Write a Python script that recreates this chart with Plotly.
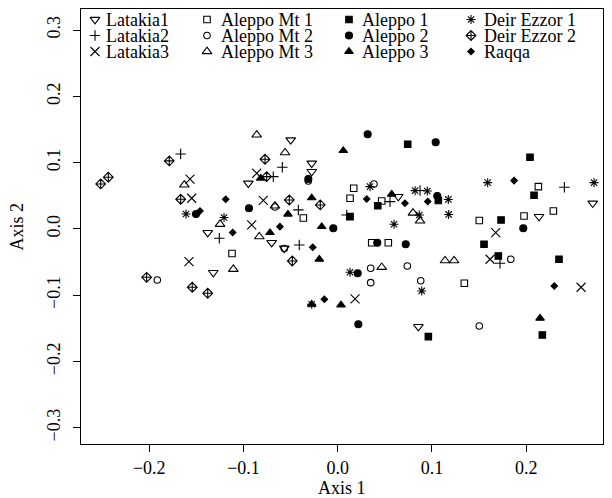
import plotly.graph_objects as go

# ---- data (Axis 1, Axis 2) ----
groups = ["Latakia1", "Latakia2", "Latakia3",
          "Aleppo Mt 1", "Aleppo Mt 2", "Aleppo Mt 3",
          "Aleppo 1", "Aleppo 2", "Aleppo 3",
          "Deir Ezzor 1", "Deir Ezzor 2", "Raqqa"]

latakia1_x = [-0.0949, -0.0499, -0.0276, -0.0276, 0.0643, -0.1380, -0.1321, -0.0701, -0.0567, 0.0856, 0.2137, 0.2707]
latakia1_y = [0.0689, 0.1342, 0.0991, 0.0864, 0.0487, -0.0056, -0.0659, -0.0207, -0.0291, -0.1474, 0.0186, 0.0388]

latakia2_x = [-0.1667, -0.0588, -0.0684, -0.0418, 0.0096, 0.0555, -0.1257, -0.0408, 0.0874, 0.1723, 0.2406]
latakia2_y = [0.1131, 0.0931, 0.0789, 0.0287, 0.0211, 0.0412, -0.0140, -0.0241, 0.0581, -0.0517, 0.0629]

latakia3_x = [-0.1568, -0.0860, -0.1550, -0.0790, -0.0913, -0.1579, 0.0184, 0.1677, 0.1617, 0.2583]
latakia3_y = [0.0750, 0.0840, 0.0463, 0.0430, 0.0060, -0.0493, -0.1056, -0.0056, -0.0457, -0.0879]

aleppomt1_x = [0.0170, 0.0131, 0.0467, -0.0365, -0.1122, 0.0361, 0.0537, 0.1344, 0.1503, 0.1978, 0.2289, 0.2130]
aleppomt1_y = [0.0614, 0.0463, 0.0422, 0.0166, -0.0370, -0.0207, -0.0207, -0.0819, 0.0128, 0.0196, 0.0271, 0.0638]

aleppomt2_x = [0.0385, -0.0312, -0.0666, -0.0567, -0.1915, 0.0350, 0.0739, 0.0350, 0.0881, 0.1837, 0.1503]
aleppomt2_y = [0.0679, 0.0724, 0.0332, -0.0294, -0.0769, -0.0593, -0.0558, -0.0810, -0.0780, -0.0457, -0.1463]

aleppomt3_x = [-0.0860, -0.0559, -0.1628, -0.1249, -0.0832, -0.1108, -0.0666, 0.0467, 0.0799, 0.0874, 0.1139, 0.1235]
aleppomt3_y = [0.1418, 0.1151, 0.0664, 0.0071, -0.0116, -0.0608, 0.0347, -0.0578, 0.0241, 0.0121, -0.0478, -0.0478]

aleppo1_x = [0.0743, 0.2041, 0.2084, 0.0425, 0.0131, 0.1068, 0.1734, 0.1553, 0.1705, 0.2349, 0.2172, 0.0962]
aleppo1_y = [0.1278, 0.1081, 0.0508, 0.0351, 0.0186, 0.0430, 0.0136, -0.0231, -0.0407, -0.0457, -0.1599, -0.1624]

aleppo2_x = [0.0318, 0.1040, -0.0312, -0.0942, -0.1504, -0.0047, 0.0420, 0.0722, 0.0212, 0.0219, 0.1970, 0.1057]
aleppo2_y = [0.1428, 0.1308, 0.0754, 0.0312, 0.0226, 0.0011, -0.0207, -0.0231, -0.0668, -0.1437, 0.0011, 0.0498]

aleppo3_x = [0.0059, -0.0817, -0.0276, 0.0573, -0.0528, -0.0719, -0.0170, -0.0195, 0.0035, -0.0276, 0.2148]
aleppo3_y = [0.1181, 0.0765, 0.0468, 0.0523, 0.0222, -0.0056, 0.0035, -0.0457, -0.1146, -0.1136, -0.1347]

deir1_x = [-0.1610, -0.1207, 0.0343, 0.0821, 0.0951, 0.1174, 0.0866, 0.1178, 0.0598, 0.0131, 0.0892, -0.0276, 0.1592, 0.2721]
deir1_y = [0.0226, 0.0173, 0.0638, 0.0578, 0.0573, 0.0445, 0.0211, 0.0219, 0.0071, -0.0653, -0.0935, -0.1136, 0.0698, 0.0698]

deir2_x = [-0.2516, -0.2435, -0.1788, -0.1667, -0.0772, -0.0754, -0.0514, -0.0185, -0.0482, -0.2028, -0.1544, -0.1380]
deir2_y = [0.0679, 0.0780, 0.1026, 0.0448, 0.1051, 0.0789, 0.0437, 0.0362, -0.0483, -0.0729, -0.0879, -0.0970]

raqqa_x = [-0.1189, -0.1462, -0.1115, -0.0613, -0.0265, -0.0142, 0.0308, 0.0714, 0.0956, 0.1872, 0.2299]
raqqa_y = [0.0448, 0.0271, -0.0053, 0.0035, -0.0276, -0.1060, 0.0452, 0.0388, 0.0415, 0.0729, -0.0860]

xs = [latakia1_x, latakia2_x, latakia3_x, aleppomt1_x, aleppomt2_x, aleppomt3_x,
      aleppo1_x, aleppo2_x, aleppo3_x, deir1_x, deir2_x, raqqa_x]
ys = [latakia1_y, latakia2_y, latakia3_y, aleppomt1_y, aleppomt2_y, aleppomt3_y,
      aleppo1_y, aleppo2_y, aleppo3_y, deir1_y, deir2_y, raqqa_y]

x_ticks = [-0.2, -0.1, 0.0, 0.1, 0.2]
y_ticks = [-0.3, -0.2, -0.1, 0.0, 0.1, 0.2, 0.3]

# ---- styles ----
symbols = ["triangle-down-open", "cross-thin-open", "x-thin-open",
           "square-open", "circle-open", "triangle-up-open",
           "square", "circle", "triangle-up",
           "asterisk-open", "diamond-cross-open", "diamond"]
sizes = [8.5, 7.5, 9, 6.5, 6.5, 8.5, 6.5, 7, 7.5, 7.5, 7.5, 5]

FONT = "Liberation Serif"
W, H = 612, 498
L, R, T, B = 81, 9, 9, 54

fig = go.Figure()
for g, x, y, s, sz in zip(groups, xs, ys, symbols, sizes):
    fig.add_trace(go.Scatter(
        x=x, y=y, mode="markers", name=g, showlegend=False,
        marker=dict(symbol=s, size=sz, color="black",
                    line=dict(color="black", width=1.1)),
        cliponaxis=True))

# ---- legend (4 columns x 3 rows), drawn in pixel-like overlay axes ----
col_sym = [95, 207, 349, 471]
col_txt = [105, 220, 361, 483]
row_y = [19.5, 35.5, 51.5]
for i, (g, s, sz) in enumerate(zip(groups, symbols, sizes)):
    c, r = divmod(i, 3)
    fig.add_trace(go.Scatter(
        x=[col_sym[c]], y=[row_y[r]], xaxis="x2", yaxis="y2",
        mode="markers", showlegend=False, hoverinfo="skip",
        marker=dict(symbol=s, size=sz, color="black",
                    line=dict(color="black", width=1.1))))
    fig.add_annotation(x=col_txt[c], y=row_y[r], xref="x2", yref="y2",
                       text=g, showarrow=False, xanchor="left", yanchor="middle",
                       borderpad=0,
                       font=dict(family=FONT, size=18, color="black"))

axis_common = dict(showline=True, linecolor="black", linewidth=1, mirror=True,
                   ticks="outside", ticklen=7, tickwidth=1, tickcolor="black",
                   showgrid=False, zeroline=False,
                   tickfont=dict(family=FONT, size=18, color="black"))

fig.update_layout(
    width=W, height=H,
    margin=dict(l=L, r=R, t=T, b=B),
    paper_bgcolor="white", plot_bgcolor="white",
    font=dict(family=FONT, size=18, color="black"),
    xaxis=dict(range=[-0.2725, 0.2816], tickvals=x_ticks, tickformat=".1f",
               ticklabelstandoff=0, **axis_common),
    yaxis=dict(range=[-0.3243, 0.3317], tickvals=y_ticks, tickformat=".1f",
               tickangle=-90, ticklabelstandoff=6, **axis_common),
    xaxis2=dict(overlaying="x", range=[L, W - R], visible=False),
    yaxis2=dict(overlaying="y", range=[H - B, T], visible=False),
    showlegend=False,
)

fig.add_annotation(text="Axis 1", xref="paper", yref="paper", x=0.5, y=0,
                   yshift=-44, showarrow=False, yanchor="middle", borderpad=0,
                   font=dict(family=FONT, size=18, color="black"))
fig.add_annotation(text="Axis 2", xref="paper", yref="paper", x=0, y=0.5,
                   xshift=-65, showarrow=False, textangle=-90, xanchor="center",
                   borderpad=0,
                   font=dict(family=FONT, size=18, color="black"))

fig.write_html("out.html", config={"displayModeBar": False},
               post_script="document.body.style.margin='0px';")
